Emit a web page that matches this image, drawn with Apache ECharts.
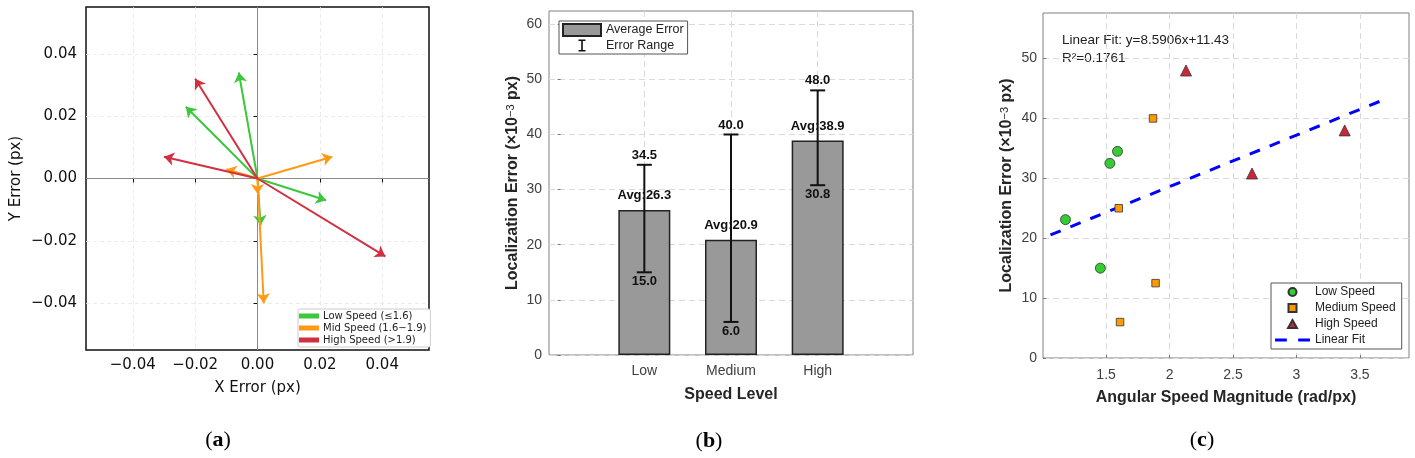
<!DOCTYPE html>
<html>
<head>
<meta charset="utf-8">
<script src="https://cdn.jsdelivr.net/npm/echarts@6/dist/echarts.min.js"></script>
<style>
  html, body { margin: 0; padding: 0; background: #fff; }
  #chart { width: 1415px; height: 458px; }
</style>
</head>
<body>
<div id="chart"></div>
<script>
// (a) error vectors, x/y components in px
const lowVecX = [-0.006, -0.023, 0.022, 0.001]
const lowVecY = [0.034, 0.023, -0.007, -0.015]
const midVecX = [0.024, -0.010, 0.000, 0.002]
const midVecY = [0.007, 0.003, -0.005, -0.040]
const highVecX = [-0.020, -0.030, 0.041]
const highVecY = [0.032, 0.007, -0.025]
const vecTicks = [-0.04, -0.02, 0, 0.02, 0.04]

// (b) error per speed level (x10^-3 px)
const speedLevels = ['Low', 'Medium', 'High']
const avgError = [26.3, 20.9, 38.9]
const minError = [15.0, 6.0, 30.8]
const maxError = [34.5, 40.0, 48.0]
const errTicksB = [0, 10, 20, 30, 40, 50, 60]

// (c) angular speed vs error
const lowSpeed = [1.18, 1.455, 1.53, 1.59]
const lowErr = [23.1, 15.0, 32.5, 34.5]
const medSpeed = [1.87, 1.60, 1.89, 1.61]
const medErr = [40.0, 25.0, 12.5, 6.0]
const highSpeed = [2.13, 2.65, 3.38]
const highErr = [48.0, 30.8, 38.0]
const fitX = [1.062, 3.718]
const fitY = [20.55, 43.37]
const speedTicks = [1.5, 2, 2.5, 3, 3.5]
const errTicksC = [0, 10, 20, 30, 40, 50]

const GREEN = '#3cc73c'
const ORANGE = '#ff9a14'
const RED = '#d0303f'
const SANS = 'Liberation Sans'
const DEJA = 'DejaVu Sans'

const chart = echarts.init(document.getElementById('chart'))

const vec = (xs, ys) => xs.map((x, i) => ({ coords: [[0, 0], [x, ys[i]]] }))
const pts = (xs, ys) => xs.map((x, i) => [x, ys[i]])
const fmtA = v => (v < 0 ? '\u2212' : '') + Math.abs(v).toFixed(2)

const yName = '{a|Localization Error (\u00d710}{s|\u22123}{a| px)}'
const yNameStyle = {
  rich: {
    a: { fontSize: 16, fontWeight: 'bold', fontFamily: SANS, color: '#262626' },
    s: { fontSize: 11, fontFamily: SANS, color: '#262626', verticalAlign: 'top' }
  }
}
const matGrid = { show: true, lineStyle: { color: '#dadada', type: [6, 4], width: 1 } }
const matTick = vals => ({ show: true, inside: true, length: 3, lineStyle: { color: '#777' }, customValues: vals })

const arrowSeries = (name, xs, ys, color) => ({
  type: 'lines',
  name,
  coordinateSystem: 'cartesian2d',
  xAxisIndex: 0,
  yAxisIndex: 0,
  z: 4,
  symbol: ['none', 'arrow'],
  symbolSize: 10,
  lineStyle: { color, width: 2, opacity: 1, curveness: 0 },
  itemStyle: { color },
  data: vec(xs, ys)
})

const option = {
  animation: false,
  textStyle: { fontFamily: SANS },
  grid: [
    { left: 86, top: 7, width: 343, height: 343, show: true, borderColor: '#111', borderWidth: 1.5 },
    { left: 549, top: 11, width: 364, height: 344, show: true, borderColor: '#808080', borderWidth: 1 },
    { left: 1043, top: 13, width: 366, height: 345, show: true, borderColor: '#808080', borderWidth: 1 }
  ],
  legend: [
    {
      data: ['Low Speed (\u22641.6)', 'Mid Speed (1.6\u22121.9)', 'High Speed (>1.9)'],
      orient: 'vertical', left: 298, top: 309,
      icon: 'rect', itemWidth: 18, itemHeight: 3, itemGap: 0,
      padding: [1, 4, 1, 1],
      backgroundColor: '#fff', borderColor: '#ccc', borderWidth: 1, borderRadius: 2,
      textStyle: { fontFamily: DEJA, fontSize: 10, color: '#222', lineHeight: 12 }
    },
    {
      data: [
        { name: 'Average Error', icon: 'rect' },
        { name: 'Error Range', icon: 'path://M0,0h7v1.6h-2.7v8.8h2.7v1.6h-7v-1.6h2.7v-8.8h-2.7z', itemStyle: { color: '#111' } }
      ],
      orient: 'vertical', left: 559, top: 21,
      itemWidth: 38, itemHeight: 12, itemGap: 2,
      padding: [2, 4, 2, 3],
      backgroundColor: '#fff', borderColor: '#555', borderWidth: 1, borderRadius: 0,
      textStyle: { fontFamily: SANS, fontSize: 12.5, color: '#222' }
    },
    {
      data: [
        { name: 'Low Speed', icon: 'path://M1,0A1,1,0,1,1,1,2A1,1,0,1,1,1,0z' },
        { name: 'Medium Speed', icon: 'path://M0,0h1v1h-1z' },
        { name: 'High Speed', icon: 'path://M1,0L2,1.8L0,1.8z' },
        { name: 'Linear Fit', icon: 'path://M0,0h11v3h-11zM21.5,0h11v3h-11z', itemStyle: { color: '#0000ff', borderWidth: 0 } }
      ],
      orient: 'vertical', left: 1271, top: 283,
      itemWidth: 35, itemHeight: 8, itemGap: 4,
      padding: [3, 6, 3, 4],
      backgroundColor: '#fff', borderColor: '#555', borderWidth: 1, borderRadius: 0,
      textStyle: { fontFamily: SANS, fontSize: 12, color: '#222' }
    }
  ],
  xAxis: [
    {
      type: 'value', gridIndex: 0, min: -0.055, max: 0.055,
      name: 'X Error (px)', nameLocation: 'middle', nameGap: 31,
      nameTextStyle: { fontFamily: DEJA, fontSize: 15, color: '#111' },
      axisLine: { show: false },
      axisTick: { show: true, length: 4, lineStyle: { color: '#111' }, customValues: vecTicks },
      axisLabel: { customValues: vecTicks, formatter: fmtA, margin: 8, fontFamily: DEJA, fontSize: 15, color: '#111' },
      splitLine: { show: true, lineStyle: { color: '#e6e6e6', type: [4, 3], width: 0.8 } }
    },
    {
      type: 'value', gridIndex: 1, min: -0.1, max: 4.1,
      name: 'Speed Level', nameLocation: 'middle', nameGap: 32,
      nameTextStyle: { fontSize: 16, fontWeight: 'bold', color: '#262626' },
      axisLine: { show: false },
      axisTick: matTick([1, 2, 3]),
      axisLabel: { customValues: [1, 2, 3], formatter: v => speedLevels[Math.round(v) - 1], margin: 9, fontSize: 14, color: '#404040' },
      splitLine: matGrid
    },
    {
      type: 'value', gridIndex: 2, min: 1.003, max: 3.887,
      name: 'Angular Speed Magnitude (rad/px)', nameLocation: 'middle', nameGap: 32,
      nameTextStyle: { fontSize: 16, fontWeight: 'bold', color: '#262626' },
      axisLine: { show: false },
      axisTick: matTick(speedTicks),
      axisLabel: { customValues: speedTicks, formatter: v => String(v), margin: 10, fontSize: 14, color: '#404040' },
      splitLine: matGrid
    }
  ],
  yAxis: [
    {
      type: 'value', gridIndex: 0, min: -0.055, max: 0.055,
      name: 'Y Error (px)', nameLocation: 'middle', nameGap: 62, nameRotate: 90,
      nameTextStyle: { fontFamily: DEJA, fontSize: 15, color: '#111' },
      axisLine: { show: false },
      axisTick: { show: true, length: 4, lineStyle: { color: '#111' }, customValues: vecTicks },
      axisLabel: { customValues: vecTicks, formatter: fmtA, margin: 9, fontFamily: DEJA, fontSize: 15, color: '#111' },
      splitLine: { show: true, lineStyle: { color: '#e6e6e6', type: [4, 3], width: 0.8 } }
    },
    {
      type: 'value', gridIndex: 1, min: 0, max: 62.4,
      name: yName, nameLocation: 'middle', nameGap: 28, nameTextStyle: yNameStyle,
      axisLine: { show: false },
      axisTick: matTick(errTicksB),
      axisLabel: { customValues: errTicksB, margin: 7, fontSize: 14, color: '#404040' },
      splitLine: matGrid
    },
    {
      type: 'value', gridIndex: 2, min: 0, max: 57.6,
      name: yName, nameLocation: 'middle', nameGap: 28, nameTextStyle: yNameStyle,
      axisLine: { show: false },
      axisTick: matTick(errTicksC),
      axisLabel: { customValues: errTicksC, margin: 6, fontSize: 14, color: '#404040' },
      splitLine: matGrid
    }
  ],
  graphic: [
    { type: 'text', x: 1062, y: 40, style: { text: 'Linear Fit: y=8.5906x+11.43', fontFamily: SANS, fontSize: 13.5, fill: '#222', verticalAlign: 'middle' } },
    { type: 'text', x: 1062, y: 58, style: { text: 'R\u00b2=0.1761', fontFamily: SANS, fontSize: 13.5, fill: '#222', verticalAlign: 'middle' } },
    ...[['a', 218, 440], ['b', 709, 441], ['c', 1202, 440]].map(([t, x, y]) => ({
      type: 'text', x, y,
      style: {
        text: '{p|(}{b|' + t + '}{p|)}', align: 'center', verticalAlign: 'middle',
        rich: {
          p: { fontFamily: 'Liberation Serif', fontSize: 22, fill: '#000' },
          b: { fontFamily: 'Liberation Serif', fontSize: 22, fontWeight: 'bold', fill: '#000' }
        }
      }
    }))
  ],
  series: [
    // zero axes of panel (a)
    {
      type: 'lines', coordinateSystem: 'cartesian2d', xAxisIndex: 0, yAxisIndex: 0, z: 1, silent: true,
      symbol: 'none',
      lineStyle: { color: '#8a8a8a', width: 1, opacity: 1 },
      data: [{ coords: [[-0.055, 0], [0.055, 0]] }, { coords: [[0, -0.055], [0, 0.055]] }]
    },
    arrowSeries('Low Speed (\u22641.6)', lowVecX, lowVecY, GREEN),
    arrowSeries('Mid Speed (1.6\u22121.9)', midVecX, midVecY, ORANGE),
    arrowSeries('High Speed (>1.9)', highVecX, highVecY, RED),
    {
      type: 'bar', name: 'Average Error', xAxisIndex: 1, yAxisIndex: 1,
      barWidth: 52, z: 2,
      itemStyle: { color: '#999999', borderColor: '#222', borderWidth: 1.5 },
      label: {
        show: true, position: 'top', distance: 8,
        formatter: p => 'Avg:' + p.value[1].toFixed(1),
        fontSize: 13, fontWeight: 'bold', color: '#111'
      },
      data: pts([1, 2, 3], avgError)
    },
    {
      type: 'custom', name: 'Error Range', xAxisIndex: 1, yAxisIndex: 1, z: 5,
      itemStyle: { color: '#111' },
      encode: { x: 0, y: [1, 2] },
      data: [1, 2, 3].map((x, i) => [x, minError[i], maxError[i]]),
      renderItem: (params, api) => {
        const x = api.value(0), lo = api.value(1), hi = api.value(2)
        const top = api.coord([x, hi]), bot = api.coord([x, lo])
        const cap = 7.5
        const ls = { stroke: '#111', lineWidth: 2 }
        const font = { fontFamily: SANS, fontSize: 13, fontWeight: 'bold', fill: '#111', align: 'center' }
        return {
          type: 'group',
          children: [
            { type: 'line', shape: { x1: top[0], y1: top[1], x2: bot[0], y2: bot[1] }, style: ls },
            { type: 'line', shape: { x1: top[0] - cap, y1: top[1], x2: top[0] + cap, y2: top[1] }, style: ls },
            { type: 'line', shape: { x1: bot[0] - cap, y1: bot[1], x2: bot[0] + cap, y2: bot[1] }, style: ls },
            { type: 'text', x: top[0], y: top[1] - 3, style: Object.assign({ text: hi.toFixed(1), verticalAlign: 'bottom' }, font) },
            { type: 'text', x: bot[0], y: bot[1] + 3, style: Object.assign({ text: lo.toFixed(1), verticalAlign: 'top' }, font) }
          ]
        }
      }
    },
    {
      type: 'scatter', name: 'Low Speed', xAxisIndex: 2, yAxisIndex: 2, z: 4,
      symbol: 'circle', symbolSize: 10,
      itemStyle: { color: '#33cc33', borderColor: '#333', borderWidth: 0.8, opacity: 1 },
      data: pts(lowSpeed, lowErr)
    },
    {
      type: 'scatter', name: 'Medium Speed', xAxisIndex: 2, yAxisIndex: 2, z: 4,
      symbol: 'rect', symbolSize: 7.5,
      itemStyle: { color: '#ff9900', borderColor: '#333', borderWidth: 0.8, opacity: 1 },
      data: pts(medSpeed, medErr)
    },
    {
      type: 'scatter', name: 'High Speed', xAxisIndex: 2, yAxisIndex: 2, z: 4,
      symbol: 'triangle', symbolSize: 11,
      itemStyle: { color: '#c8283c', borderColor: '#333', borderWidth: 0.8, opacity: 1 },
      data: pts(highSpeed, highErr)
    },
    {
      type: 'line', name: 'Linear Fit', xAxisIndex: 2, yAxisIndex: 2, z: 3,
      symbol: 'none', showSymbol: false,
      lineStyle: { color: '#0000ff', width: 3, type: [11, 10.5] },
      itemStyle: { color: '#0000ff' },
      data: pts(fitX, fitY)
    }
  ]
}

chart.setOption(option)
</script>
</body>
</html>
